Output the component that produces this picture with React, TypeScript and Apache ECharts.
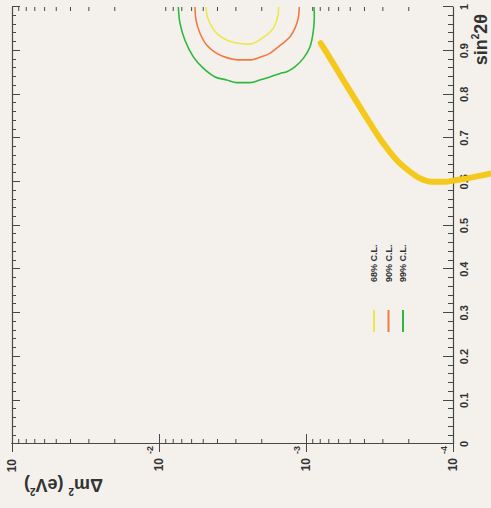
import React, { useEffect, useRef } from "react";
import * as echarts from "echarts";

// sin^2(2θ) axis (linear) and Δm² axis (log) limits
const sinMin = 0;
const sinMax = 1;
const dm2Min = 1e-4;
const dm2Max = 1e-1;

// minor log ticks (2..9 × decade)
const logMinorTicks = [
  2e-4, 3e-4, 4e-4, 5e-4, 6e-4, 7e-4, 8e-4, 9e-4,
  2e-3, 3e-3, 4e-3, 5e-3, 6e-3, 7e-3, 8e-3, 9e-3,
  2e-2, 3e-2, 4e-2, 5e-2, 6e-2, 7e-2, 8e-2, 9e-2,
];

// 68% C.L. contour
const contour68Sin = [1.0, 0.978, 0.955, 0.936, 0.923, 0.917, 0.915, 0.923, 0.936, 0.951, 0.97, 0.989, 1.0];
const contour68Dm2 = [4.79e-3, 4.69e-3, 4.38e-3, 3.95e-3, 3.38e-3, 2.89e-3, 2.4e-3, 2.11e-3, 1.85e-3, 1.67e-3, 1.58e-3, 1.54e-3, 1.54e-3];

// 90% C.L. contour
const contour90Sin = [1.0, 0.97, 0.94, 0.913, 0.894, 0.883, 0.879, 0.879, 0.885, 0.894, 0.909, 0.921, 0.932, 0.951, 0.974, 1.0];
const contour90Dm2 = [5.69e-3, 5.6e-3, 5.26e-3, 4.74e-3, 4.05e-3, 3.38e-3, 2.89e-3, 2.4e-3, 2.06e-3, 1.76e-3, 1.54e-3, 1.39e-3, 1.285e-3, 1.19e-3, 1.13e-3, 1.11e-3];

// 99% C.L. contour
const contour99Sin = [1.0, 0.963, 0.924, 0.886, 0.86, 0.84, 0.833, 0.827, 0.827, 0.833, 0.84, 0.848, 0.852, 0.863, 0.883, 0.909, 0.944, 0.978, 1.0];
const contour99Dm2 = [7.39e-3, 7.2e-3, 6.66e-3, 5.84e-3, 5.0e-3, 4.16e-3, 3.46e-3, 2.96e-3, 2.4e-3, 2.06e-3, 1.76e-3, 1.5e-3, 1.35e-3, 1.19e-3, 1.04e-3, 9.39e-4, 8.92e-4, 8.78e-4, 8.82e-4];

// thick exclusion limit curve
const limitSin = [0.917, 0.883, 0.833, 0.783, 0.734, 0.688, 0.65, 0.623, 0.608, 0.6, 0.6, 0.604, 0.609, 0.619];
const limitDm2 = [7.94e-4, 6.87e-4, 5.58e-4, 4.52e-4, 3.67e-4, 2.98e-4, 2.42e-4, 1.96e-4, 1.68e-4, 1.4e-4, 1.16e-4, 9.4e-5, 7.7e-5, 5.5e-5];

const legendNames = ["68% C.L.", "90% C.L.", "99% C.L."];

const zip = (a: number[], b: number[]) => a.map((v, i) => [v, b[i]]);

const AXIS = "#474747";
const TEXT = "#333333";
const FONT = "'Liberation Sans', Arial, Helvetica, sans-serif";

export default function App() {
  const ref = useRef<HTMLDivElement>(null);

  useEffect(() => {
    if (!ref.current) return;
    const chart = echarts.init(ref.current, undefined, { renderer: "svg" });
    const axisCommon = {
      axisLine: { show: true, lineStyle: { color: AXIS, width: 1.2 } },
      splitLine: { show: false },
    };
    chart.setOption({
      animation: false,
      backgroundColor: "transparent",
      textStyle: { fontFamily: FONT },
      grid: { left: 64, right: 7, top: 12, bottom: 38 },
      xAxis: [
        {
          type: "value",
          min: sinMin,
          max: sinMax,
          interval: 0.1,
          position: "bottom",
          ...axisCommon,
          axisTick: { show: true, inside: true, length: 10, lineStyle: { color: AXIS } },
          minorTick: { show: true, splitNumber: 5, length: 5, lineStyle: { color: AXIS } },
          axisLabel: { fontSize: 11, fontWeight: "bold", color: TEXT, margin: 5, fontFamily: FONT },
        },
        {
          type: "value",
          min: sinMin,
          max: sinMax,
          interval: 0.1,
          position: "top",
          ...axisCommon,
          axisTick: { show: true, inside: true, length: 8, lineStyle: { color: AXIS } },
          minorTick: { show: true, splitNumber: 5, length: 4, lineStyle: { color: AXIS } },
          axisLabel: { show: false },
        },
      ],
      yAxis: [
        {
          type: "log",
          logBase: 10,
          min: dm2Min,
          max: dm2Max,
          position: "left",
          ...axisCommon,
          axisTick: { show: true, inside: true, length: 10, lineStyle: { color: AXIS } },
          axisLabel: {
            margin: 2,
            fontFamily: FONT,
            formatter: (v: number) => {
              const e = Math.round(Math.log10(v));
              return e === -1 ? "{c|10}" : `{b|10}{e|${e}}`;
            },
            rich: {
              b: { fontSize: 12, fontWeight: "bold", color: TEXT, fontFamily: FONT },
              c: { fontSize: 12, fontWeight: "bold", color: TEXT, fontFamily: FONT, padding: [0, 13, 0, 0] },
              e: { fontSize: 9, fontWeight: "bold", color: TEXT, fontFamily: FONT, padding: [0, 0, 18, 4] },
            },
          },
        },
        {
          type: "log",
          logBase: 10,
          min: dm2Min,
          max: dm2Max,
          position: "right",
          ...axisCommon,
          axisTick: { show: true, inside: true, length: 8, lineStyle: { color: AXIS } },
          axisLabel: { show: false },
        },
      ],
      legend: {
        show: true,
        orient: "vertical",
        left: 176,
        top: 355,
        padding: 0,
        icon: "rect",
        itemWidth: 22,
        itemHeight: 2,
        itemGap: -23.5,
        data: legendNames,
        textStyle: {
          fontSize: 9,
          fontWeight: "bold",
          color: TEXT,
          fontFamily: FONT,
          padding: [26, 0, 0, 23],
          lineHeight: 12,
        },
      },
      graphic: [
        {
          type: "text",
          x: 494,
          y: 481,
          style: {
            text: "{a|sin}{s|2}{a|2θ}",
            align: "right",
            verticalAlign: "middle",
            rich: {
              a: { fontSize: 18, fontWeight: "bold", fill: TEXT, fontFamily: FONT },
              s: { fontSize: 10, fontWeight: "bold", fill: TEXT, fontFamily: FONT, padding: [0, 0, 12, 0] },
            },
          },
        },
        {
          type: "text",
          x: 23,
          y: 103,
          rotation: Math.PI / 2,
          style: {
            text: "{a|Δm}{s|2}{a| (eV}{s|2}{a|)}",
            align: "left",
            verticalAlign: "middle",
            rich: {
              a: { fontSize: 18, fontWeight: "bold", fill: TEXT, fontFamily: FONT },
              s: { fontSize: 10, fontWeight: "bold", fill: TEXT, fontFamily: FONT, padding: [0, 0, 12, 0] },
            },
          },
        },
      ],
      series: [
        {
          type: "custom",
          silent: true,
          xAxisIndex: 0,
          yAxisIndex: 0,
          data: logMinorTicks.map((v) => [0, v]),
          renderItem: (params: any, api: any) => {
            const v = api.value(1);
            const pl = api.coord([sinMin, v]);
            const pr = api.coord([sinMax, v]);
            const st = { stroke: AXIS, lineWidth: 1 };
            return {
              type: "group",
              children: [
                { type: "line", shape: { x1: pl[0], y1: pl[1], x2: pl[0] + 5, y2: pl[1] }, style: st },
                { type: "line", shape: { x1: pr[0], y1: pr[1], x2: pr[0] - 4, y2: pr[1] }, style: st },
              ],
            };
          },
        },
        {
          name: "limit",
          type: "line",
          data: zip(limitSin, limitDm2),
          showSymbol: false,
          symbol: "none",
          smooth: 0.3,
          clip: false,
          lineStyle: { color: "#f5c81c", width: 6, cap: "round", join: "round" },
          z: 3,
        },
        {
          name: legendNames[0],
          type: "line",
          data: zip(contour68Sin, contour68Dm2),
          showSymbol: false,
          symbol: "none",
          smooth: 0.3,
          itemStyle: { color: "#ece848" },
          lineStyle: { color: "#ece848", width: 1.6 },
        },
        {
          name: legendNames[1],
          type: "line",
          data: zip(contour90Sin, contour90Dm2),
          showSymbol: false,
          symbol: "none",
          smooth: 0.3,
          itemStyle: { color: "#f27a40" },
          lineStyle: { color: "#f27a40", width: 1.6 },
        },
        {
          name: legendNames[2],
          type: "line",
          data: zip(contour99Sin, contour99Dm2),
          showSymbol: false,
          symbol: "none",
          smooth: 0.3,
          itemStyle: { color: "#2fb83e" },
          lineStyle: { color: "#2fb83e", width: 1.6 },
        },
      ],
    });
    return () => chart.dispose();
  }, []);

  return (
    <div
      style={{
        position: "fixed",
        left: 0,
        top: 0,
        width: 491,
        height: 508,
        background: "#f4f1ec",
        overflow: "hidden",
      }}
    >
      <div
        ref={ref}
        style={{
          position: "absolute",
          left: 0,
          top: 0,
          width: 508,
          height: 491,
          transformOrigin: "0 0",
          transform: "translateY(508px) rotate(-90deg)",
        }}
      />
    </div>
  );
}
